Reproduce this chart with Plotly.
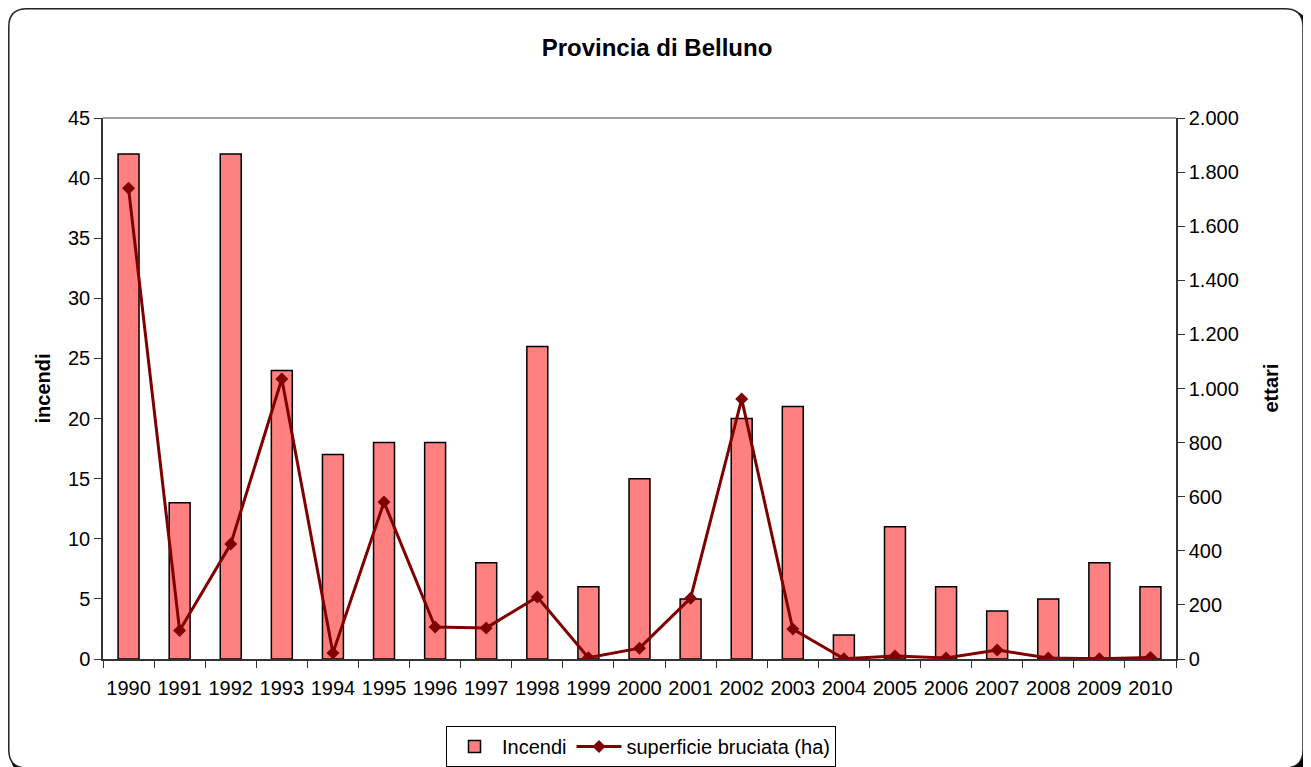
import plotly.graph_objects as go

years = [str(y) for y in range(1990, 2011)]
incendi = [42, 13, 42, 24, 17, 18, 18, 8, 26, 6, 15, 5, 20, 21, 2, 11, 6, 4, 5, 8, 6]
superficie = [1740, 105, 425, 1035, 22, 580, 118, 115, 229, 5, 40, 225, 961, 111, 1, 11, 4, 33, 4, 1, 6]

# page is rendered with an 8px body margin: work in page pixels, shift by OFF
OFF = 8
W, H = 1311 - OFF, 767 - OFF
L, R, T, B = 103, 1176, 118, 659  # page pixel positions of plot area
PW, PH = R - L, B - T

def px(x):
    return (x - L) / PW

def py(y):
    return (B - y) / PH

def rrect(x0, y0, x1, y1, r):
    return (f"M {px(x0 + r)} {py(y0)} L {px(x1 - r)} {py(y0)} "
            f"Q {px(x1)} {py(y0)} {px(x1)} {py(y0 + r)} "
            f"L {px(x1)} {py(y1 - r)} "
            f"Q {px(x1)} {py(y1)} {px(x1 - r)} {py(y1)} "
            f"L {px(x0 + r)} {py(y1)} "
            f"Q {px(x0)} {py(y1)} {px(x0)} {py(y1 - r)} "
            f"L {px(x0)} {py(y0 + r)} "
            f"Q {px(x0)} {py(y0)} {px(x0 + r)} {py(y0)} Z")

FONT = "Liberation Sans, Arial, sans-serif"

fig = go.Figure()
fig.add_trace(go.Bar(
    x=years, y=incendi, name="Incendi",
    marker=dict(color="#FF8080", line=dict(color="#000000", width=1.5)),
    yaxis="y",
))
fig.add_trace(go.Scatter(
    x=years, y=superficie, name="superficie bruciata (ha)",
    mode="lines+markers",
    line=dict(color="#800000", width=3),
    marker=dict(symbol="diamond", size=10, color="#800000"),
    yaxis="y2",
))

shapes = [
    dict(type="path", xref="paper", yref="paper", layer="below",
         path=rrect(12, 12, 1306, 772, 18), line=dict(color="#000000", width=3.5),
         fillcolor="#000000"),
    dict(type="path", xref="paper", yref="paper", layer="below",
         path=rrect(8.8, 8.8, 1303, 768, 18), line=dict(color="#222222", width=1.5),
         fillcolor="#FFFFFF"),
    dict(type="line", xref="paper", yref="paper", layer="above",
         x0=0, x1=1, y0=1, y1=1, line=dict(color="#808080", width=1.5)),
]

fig.update_layout(
    width=W, height=H,
    margin=dict(l=L - OFF, r=1311 - R, t=T - OFF, b=767 - B, autoexpand=False),
    paper_bgcolor="#FFFFFF",
    plot_bgcolor="rgba(0,0,0,0)",
    font=dict(family=FONT, size=20, color="#000000"),
    separators=",.",
    title=dict(text="<b>Provincia di Belluno</b>", x=(657 - OFF) / W, xanchor="center",
               xref="container", yref="container", y=1 - (48 - OFF) / H, yanchor="middle",
               font=dict(size=24, family=FONT)),
    bargap=0.59,
    showlegend=True,
    legend=dict(orientation="h", x=px(641), xanchor="center", y=py(726), yanchor="top",
                bordercolor="#000000", borderwidth=1, bgcolor="#FFFFFF",
                font=dict(size=20, family=FONT), traceorder="normal", itemwidth=45),
    xaxis=dict(type="category", tickson="boundaries", ticks="outside", ticklen=7,
               tickcolor="#333333", showline=True, linecolor="#333333", linewidth=1.5,
               showgrid=False, range=[-0.5, 20.5], tickfont=dict(size=20), tickangle=0,
               ticklabelstandoff=10),
    yaxis=dict(range=[0, 45], dtick=5, ticks="outside", ticklen=7, tickcolor="#333333",
               showline=True, linecolor="#333333", linewidth=1.5, showgrid=False,
               zeroline=False, tickfont=dict(size=20)),
    yaxis2=dict(range=[0, 2000], tickvals=list(range(0, 2001, 200)), tickformat=",d",
                overlaying="y", side="right", ticks="outside", ticklen=7,
                tickcolor="#333333", showline=True, linecolor="#333333", linewidth=1.5,
                showgrid=False, zeroline=False, tickfont=dict(size=20)),
    shapes=shapes,
    annotations=[
        dict(text="<b>incendi</b>", xref="paper", yref="paper", x=px(42), y=0.5,
             textangle=-90, showarrow=False, font=dict(size=20), xanchor="center",
             yanchor="middle"),
        dict(text="<b>ettari</b>", xref="paper", yref="paper", x=px(1270), y=0.5,
             textangle=-90, showarrow=False, font=dict(size=20), xanchor="center",
             yanchor="middle"),
    ],
)

fig.write_html("out.html")
